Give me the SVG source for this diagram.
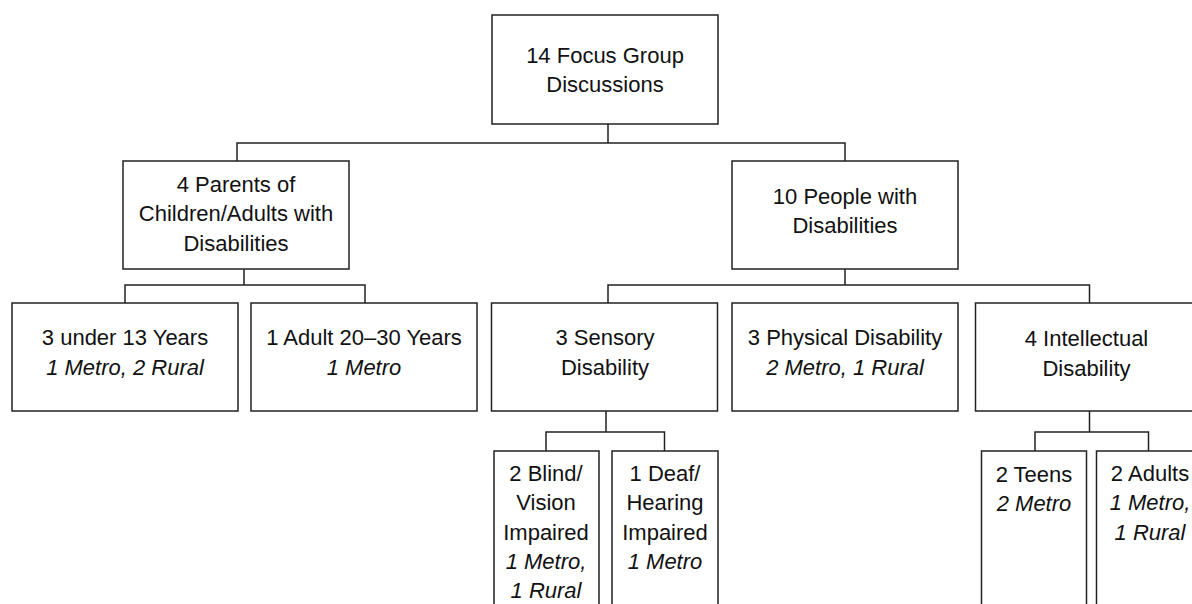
<svg xmlns="http://www.w3.org/2000/svg" width="1192" height="604" viewBox="0 0 1192 604">
<style>
.box{fill:#fff;stroke:#222;stroke-width:1.5}
.con{fill:none;stroke:#222;stroke-width:1.5}
text{font-family:"Liberation Sans",Arial,sans-serif;font-size:22px;fill:#111;text-anchor:middle}
.it{font-style:italic}
</style>
<rect width="1192" height="604" fill="#fff"/>
<g id="connectors">
<path class="con" d="M608 124V143M237 161V143H845V161"/>
<path class="con" d="M244 269V285M125 303V285H365V303"/>
<path class="con" d="M845 269V285M608 303V285H1089.5V303"/>
<path class="con" d="M606 411V432M546 451V432H664.5V451"/>
<path class="con" d="M1089.5 411V432M1035 451V432H1148.5V451"/>
</g>
<g id="root">
<rect class="box" x="492" y="15" width="226" height="109"/>
<text x="605" y="63">14 Focus Group</text>
<text x="605" y="92">Discussions</text>
</g>
<g id="parents">
<rect class="box" x="123" y="161" width="226" height="108"/>
<text x="236" y="192">4 Parents of</text>
<text x="236" y="221">Children/Adults with</text>
<text x="236" y="251">Disabilities</text>
</g>
<g id="people">
<rect class="box" x="732" y="161" width="226" height="108"/>
<text x="845" y="204">10 People with</text>
<text x="845" y="233">Disabilities</text>
</g>
<g id="under13">
<rect class="box" x="12" y="303" width="226" height="108"/>
<text x="125" y="345">3 under 13 Years</text>
<text class="it" x="125" y="375">1 Metro, 2 Rural</text>
</g>
<g id="adult2030">
<rect class="box" x="251" y="303" width="226" height="108"/>
<text x="364" y="345">1 Adult 20–30 Years</text>
<text class="it" x="364" y="375">1 Metro</text>
</g>
<g id="sensory">
<rect class="box" x="491.5" y="303" width="226" height="108"/>
<text x="605" y="345">3 Sensory</text>
<text x="605" y="375">Disability</text>
</g>
<g id="physical">
<rect class="box" x="732" y="303" width="226" height="108"/>
<text x="845" y="345">3 Physical Disability</text>
<text class="it" x="845" y="375">2 Metro, 1 Rural</text>
</g>
<g id="intellectual">
<rect class="box" x="975.5" y="303" width="227" height="108"/>
<text x="1086.5" y="346">4 Intellectual</text>
<text x="1086.5" y="376">Disability</text>
</g>
<g id="blind">
<rect class="box" x="494" y="451" width="105" height="170"/>
<text x="546" y="481">2 Blind/</text>
<text x="546" y="510">Vision</text>
<text x="546" y="540">Impaired</text>
<text class="it" x="546" y="569">1 Metro,</text>
<text class="it" x="546" y="598">1 Rural</text>
</g>
<g id="deaf">
<rect class="box" x="612" y="451" width="106" height="170"/>
<text x="665" y="481">1 Deaf/</text>
<text x="665" y="510">Hearing</text>
<text x="665" y="540">Impaired</text>
<text class="it" x="665" y="569">1 Metro</text>
</g>
<g id="teens">
<rect class="box" x="981.5" y="451" width="105" height="170"/>
<text x="1034" y="482">2 Teens</text>
<text class="it" x="1034" y="511">2 Metro</text>
</g>
<g id="adults">
<rect class="box" x="1096.5" y="451" width="106" height="170"/>
<text x="1150" y="481">2 Adults</text>
<text class="it" x="1150" y="510">1 Metro,</text>
<text class="it" x="1150" y="540">1 Rural</text>
</g>
</svg>
